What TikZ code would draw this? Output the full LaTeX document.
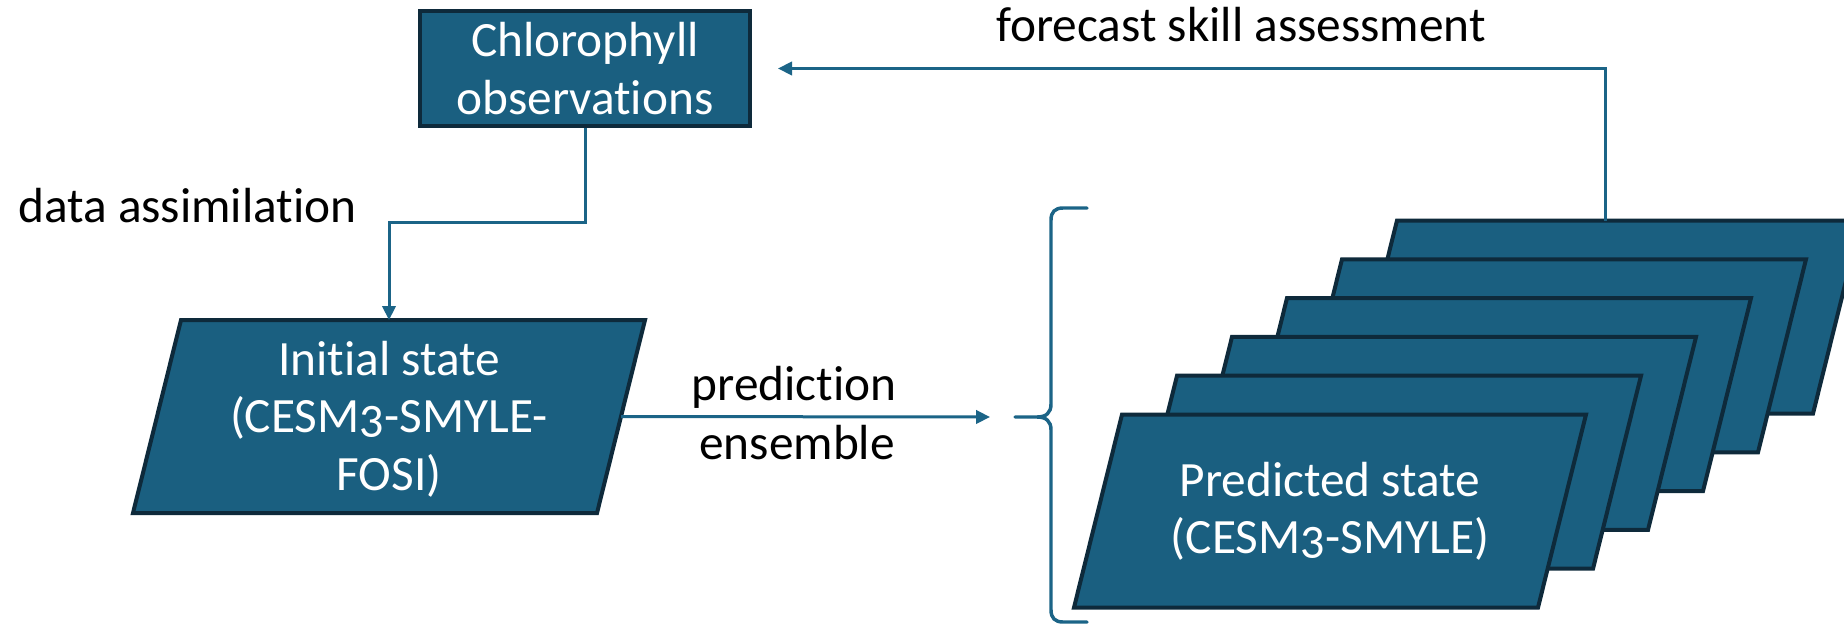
\documentclass[tikz,border=0pt]{standalone}
\usepackage{fontspec}
\setmainfont{Carlito}[Ligatures={NoCommon}, Numbers=OldStyle]
\usetikzlibrary{arrows.meta,calc}
\definecolor{boxfill}{HTML}{1A5F80}
\definecolor{boxline}{HTML}{0E2A3B}
\definecolor{conncol}{HTML}{1B6487}
\begin{document}
\begin{tikzpicture}[x=0.75pt,y=-0.75pt,
  txt/.style={font=\fontsize{37}{43}\selectfont, inner sep=0pt},
  boxtxt/.style={txt, text=white, align=center},
  lbl/.style={txt, text=black},
  conn/.style={draw=conncol, line width=2.25pt},
  arr/.style={conn, -{Triangle[length=10.5pt,width=10pt]}},
  parashape/.style={fill=boxfill, draw=boxline, line width=3pt, line join=miter},
  obsbox/.style={rectangle, fill=boxfill, draw=boxline, line width=3pt, minimum width=247.5pt, minimum height=86.25pt, boxtxt},
  paratext/.style={},
  pics/paral/.style={code={
    \path[parashape] (-208,-96.5) coordinate (-tl) -- (256,-96.5) coordinate (-tr) -- (208,96.5) coordinate (-br) -- (-256,96.5) coordinate (-bl) -- cycle;
    \coordinate (-n) at (0,-96.5);
    \coordinate (-e) at (232,0);
    \node[boxtxt, paratext] (-t) at (0,0) {#1};
  }}
]
\clip (0,0) rectangle (1844,624);
\fill[white] (0,0) rectangle (1844,624);
% boxes
\node[obsbox] (obs) at (585,68.5) {Chlorophyll\\observations};
\pic[paratext/.style={yshift=-2pt}] (init) at (389,416.5) {paral={Initial state\\(CESM3-SMYLE-\\FOSI)}};
\foreach \k in {5,4,3,2,1} {
  \pic (p\k) at ({1330+55*\k},{511-38.8*\k}) {paral={}};
}
\pic (p0) at (1330,511) {paral={Predicted state\\(CESM3-SMYLE)}};
% brace
\coordinate (ens-tip) at (1015,417);
\coordinate (ens-in) at (990,417);
\draw[conncol, line width=2.6pt, line cap=round]
  (1087,208) -- (1063,208) .. controls (1055,208) and (1051,212) .. (1051,220)
  -- (1051,404) .. controls (1051,413) and (1046,417) .. (1037,417) -- (ens-tip)
  (1037,417) .. controls (1046,417) and (1051,421) .. (1051,430)
  -- (1051,610) .. controls (1051,618) and (1055,622) .. (1063,622) -- (1087,622);
% connectors
\draw[arr] (obs.south) -- ++(0,94) -| (init-n);
\draw[arr] (init-e) -- (ens-in);
\draw[arr, shorten >=19.5pt] (p5-n) |- (obs.east);
% labels
\node[lbl, anchor=base west] (da) at (18,222) {data assimilation};
\node[lbl, anchor=base] (fsa) at (1241,42) {forecast skill assessment};
\node[lbl, anchor=base] (pred) at (794,400) {prediction};
\node[lbl, anchor=base] (ens) at (797,459) {ensemble};
\end{tikzpicture}
\end{document}
